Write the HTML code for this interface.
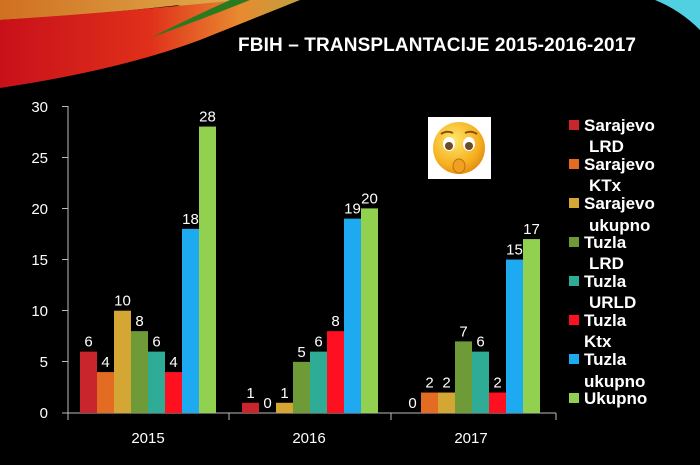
<!DOCTYPE html>
<html><head><style>
body{margin:0;background:#000;width:700px;height:460px;overflow:hidden;font-family:"Liberation Sans",sans-serif}
</style></head><body>
<svg width="700" height="460" xmlns="http://www.w3.org/2000/svg" font-family="Liberation Sans, sans-serif">
<defs>
<linearGradient id="sw" x1="0" y1="0" x2="1" y2="0">
<stop offset="0" stop-color="#c8101a"/><stop offset="0.5" stop-color="#e0301a"/><stop offset="0.8" stop-color="#e88a30"/><stop offset="1" stop-color="#c0a040"/></linearGradient>
<linearGradient id="sw2" x1="0" y1="0" x2="1" y2="0">
<stop offset="0" stop-color="#d07020"/><stop offset="1" stop-color="#e0b050"/></linearGradient>
<radialGradient id="face" cx="0.4" cy="0.35" r="0.7"><stop offset="0" stop-color="#ffe66a"/><stop offset="0.7" stop-color="#f5b020"/><stop offset="1" stop-color="#e08a10"/></radialGradient>
</defs>
<path d="M0,0 L250,0 Q180,30 60,40 Q140,20 180,5 Q90,15 0,20 Z" fill="url(#sw2)"/>
<path d="M0,20 Q120,12 240,0 L300,0 Q250,20 200,40 Q120,70 0,88 Z" fill="url(#sw)"/>
<path d="M230,0 L250,0 Q200,20 150,38 Q190,18 230,0Z" fill="#2a7a20"/>
<path d="M655,0 L700,0 L700,30 Q680,10 655,0Z" fill="#50d0e0"/>
<text x="238" y="51" fill="#fff" font-size="19" font-weight="bold" textLength="398">FBIH – TRANSPLANTACIJE 2015-2016-2017</text>
<g stroke="#bbb" stroke-width="1">
<line x1="68" y1="106" x2="68" y2="413"/><line x1="68" y1="413" x2="556" y2="413"/>
<line x1="62" y1="106.5" x2="68" y2="106.5"/><line x1="62" y1="157.5" x2="68" y2="157.5"/><line x1="62" y1="208.5" x2="68" y2="208.5"/><line x1="62" y1="259.5" x2="68" y2="259.5"/><line x1="62" y1="310.5" x2="68" y2="310.5"/><line x1="62" y1="361.5" x2="68" y2="361.5"/><line x1="62" y1="413" x2="68" y2="413"/>
<line x1="68" y1="413" x2="68" y2="420"/><line x1="229" y1="413" x2="229" y2="420"/><line x1="391" y1="413" x2="391" y2="420"/><line x1="556" y1="413" x2="556" y2="420"/>
</g>
<g fill="#fff" font-size="15" text-anchor="end">
<text x="48" y="112">30</text><text x="48" y="163">25</text><text x="48" y="214">20</text><text x="48" y="265">15</text><text x="48" y="316">10</text><text x="48" y="367">5</text><text x="48" y="418">0</text>
</g>
<g fill="#fff" font-size="15" text-anchor="middle">
<text x="148" y="443">2015</text><text x="309" y="443">2016</text><text x="471" y="443">2017</text>
</g>
<g id="bars"></g>
<g fill="#fff" font-size="15" text-anchor="middle" id="lbls"></g>
<rect x="428" y="117" width="63" height="62" fill="#fff"/>
<circle cx="459" cy="148" r="26" fill="url(#face)"/>
<ellipse cx="449" cy="144" rx="6" ry="7" fill="#fff"/><ellipse cx="469" cy="144" rx="6" ry="7" fill="#fff"/>
<circle cx="449" cy="146" r="4" fill="#6a4a2a"/><circle cx="469" cy="146" r="4" fill="#6a4a2a"/>
<path d="M441,134 Q447,130 453,133 M465,133 Q471,130 477,134" stroke="#8a5010" stroke-width="2" fill="none"/>
<ellipse cx="459" cy="166" rx="6" ry="7" fill="#f0a020" stroke="#c07010"/>
<g font-size="17" font-weight="bold" fill="#fff">
<rect x="569" y="120" width="10" height="10" fill="#c8262c"/><text x="584" y="131">Sarajevo</text><text x="589" y="152">LRD</text>
<rect x="569" y="159" width="10" height="10" fill="#e46c22"/><text x="584" y="170">Sarajevo</text><text x="589" y="191">KTx</text>
<rect x="569" y="198" width="10" height="10" fill="#d4a634"/><text x="584" y="209">Sarajevo</text><text x="589" y="231">ukupno</text>
<rect x="569" y="237" width="10" height="10" fill="#6e9a38"/><text x="584" y="248">Tuzla</text><text x="589" y="269">LRD</text>
<rect x="569" y="276" width="10" height="10" fill="#2fac96"/><text x="584" y="287">Tuzla</text><text x="589" y="308">URLD</text>
<rect x="569" y="315" width="10" height="10" fill="#ff1020"/><text x="584" y="326">Tuzla</text><text x="584" y="347">Ktx</text>
<rect x="569" y="354" width="10" height="10" fill="#1eaaf0"/><text x="584" y="365">Tuzla</text><text x="584" y="387">ukupno</text>
<rect x="569" y="393" width="10" height="10" fill="#92d050"/><text x="584" y="404">Ukupno</text>
</g>
<script>
var cols=["#c8262c","#e46c22","#d4a634","#6e9a38","#2fac96","#ff1020","#1eaaf0","#92d050"];
var data=[[6,4,10,8,6,4,18,28],[1,0,1,5,6,8,19,20],[0,2,2,7,6,2,15,17]];
var starts=[80,242,404],b=document.getElementById("bars"),l=document.getElementById("lbls"),ns="http://www.w3.org/2000/svg";
data.forEach(function(g,gi){g.forEach(function(v,i){var x=starts[gi]+i*17,h=v*10.23;
var r=document.createElementNS(ns,"rect");r.setAttribute("x",x);r.setAttribute("y",413-h);r.setAttribute("width",17);r.setAttribute("height",h);r.setAttribute("fill",cols[i]);b.appendChild(r);
var t=document.createElementNS(ns,"text");t.setAttribute("x",x+8.5);t.setAttribute("y",413-h-5);t.textContent=v;l.appendChild(t);});});
</script>
</svg>
</body></html>
